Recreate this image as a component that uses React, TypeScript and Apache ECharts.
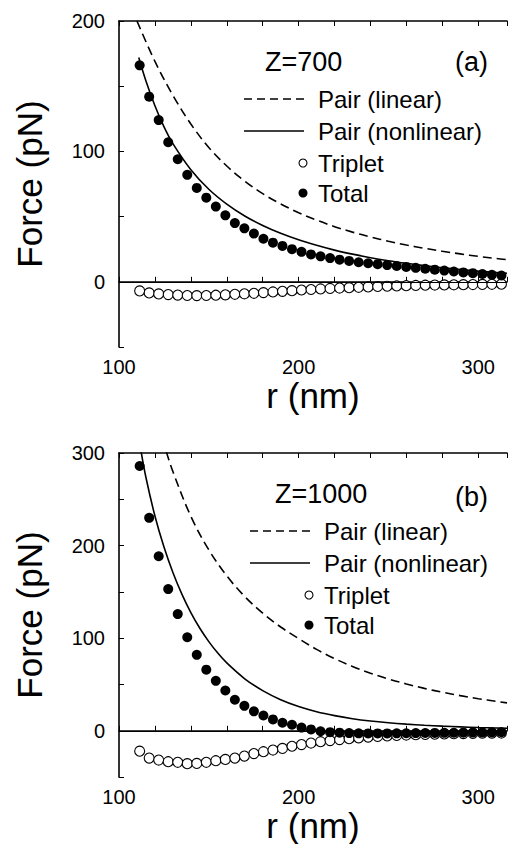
import React, { useEffect, useRef } from "react";
import * as echarts from "echarts";

// r positions of simulation points (nm)
const R = [111.5, 116.8, 122.1, 127.4, 132.7, 138.0, 143.3, 148.6, 153.9, 159.2, 164.5, 169.8, 175.1, 180.4, 185.7, 191.0, 196.3, 201.6, 206.9, 212.2, 217.5, 222.8, 228.1, 233.4, 238.7, 244.0, 249.3, 254.6, 259.9, 265.2, 270.5, 275.8, 281.1, 286.4, 291.7, 297.0, 302.3, 307.6, 312.9];

// Panel (a) Z=700
const TOTAL_A = [166, 142, 124, 107, 94, 82, 72, 64.5, 57.7, 51, 45, 41, 37, 33, 30, 27.5, 25, 23, 21, 19.5, 18.2, 17, 16, 15, 14.2, 13.5, 12.8, 12.1, 11.4, 10.7, 10, 9.3, 8.6, 7.9, 7.2, 6.6, 6, 5.4, 4.8];
const TRIPLET_A = [-7, -8.5, -9.3, -9.8, -10.2, -10.5, -10.6, -10.5, -10.3, -10, -9.6, -9.2, -8.8, -8.3, -7.8, -7.3, -6.8, -6.3, -5.9, -5.5, -5.1, -4.8, -4.5, -4.2, -3.9, -3.6, -3.4, -3.2, -3.0, -2.8, -2.6, -2.5, -2.4, -2.3, -2.2, -2.1, -2.0, -1.9, -1.8];
const LIN_A_R = [110, 120, 130, 140, 150, 160, 170, 180, 190, 200, 210, 220, 230, 240, 250, 260, 270, 280, 290, 300, 310, 316];
const LIN_A = [200, 169, 143, 121, 103, 88.8, 77.2, 67.6, 59.7, 53, 47.3, 42.3, 38.1, 34.4, 31.1, 28.2, 25.7, 23.4, 21.4, 19.5, 17.9, 17.0];
const NL_A_R = [111, 115, 120, 125, 130, 140, 150, 160, 170, 180, 190, 200, 210, 220, 230, 240, 250, 260, 270, 280, 290, 300, 310, 316];
const NL_A = [172, 154, 135, 119, 106, 86, 71, 59.6, 50.5, 43.2, 37.2, 32.2, 28, 24.3, 21.2, 18.5, 16.2, 14.2, 12.4, 10.8, 9.4, 8.2, 7.1, 6.5];

// Panel (b) Z=1000
const TOTAL_B = [286, 230, 188.5, 153, 126, 101, 82, 66, 54, 43.5, 33.5, 27, 21, 16.5, 12.3, 8.7, 6.5, 3.5, 1.5, -0.5, -1.5, -2, -2.5, -2.7, -2.8, -2.8, -2.8, -2.7, -2.6, -2.5, -2.4, -2.3, -2.2, -2.1, -2, -1.9, -1.8, -1.7, -1.6];
const TRIPLET_B = [-22, -29.5, -31.6, -33.4, -34, -35.5, -35.2, -34, -32.3, -30.9, -29.5, -27.3, -24.6, -22.6, -20.8, -19, -16.7, -14.9, -13.2, -11.8, -10.6, -9.5, -8.5, -7.6, -6.8, -6.1, -5.5, -5.0, -4.6, -4.2, -3.9, -3.6, -3.4, -3.2, -3.0, -2.8, -2.6, -2.5, -2.4];
const LIN_B_R = [120, 125, 130, 140, 150, 160, 170, 180, 190, 200, 210, 220, 230, 240, 250, 260, 270, 280, 290, 300, 310, 316];
const LIN_B = [345, 310, 280, 231.6, 195.4, 167.3, 145, 127, 112.1, 99.6, 87.9, 78, 69.5, 62.2, 56, 50.6, 45.8, 41.7, 38, 34.7, 31.8, 30.2];
const NL_B_R = [110, 112, 115, 120, 125, 130, 135, 140, 145, 150, 155, 160, 170, 180, 190, 200, 210, 220, 230, 240, 250, 260, 270, 280, 290, 300, 310, 316];
const NL_B = [330, 305, 273.5, 232, 198.7, 171, 147.6, 127.7, 110.7, 96.3, 83.9, 73.3, 56.2, 43.4, 33.6, 26.2, 20.6, 16.4, 13.1, 10.6, 8.7, 7.2, 6.0, 5.0, 4.2, 3.5, 3.0, 2.7];

const X_MIN = 100;
const X_MAX = 316;
const X_STEP = 20;
const Y_STEP = 50;
const PANELS = [
  { label: "Z=700", tag: "(a)", yMin: -50, yMax: 200 },
  { label: "Z=1000", tag: "(b)", yMin: -50, yMax: 300 },
];
const LEGEND = ["Pair (linear)", "Pair (nonlinear)", "Triplet", "Total"];

const FONT = "'Liberation Sans', Arial, Helvetica, sans-serif";

const zip = (xs: number[], ys: number[]) => xs.map((x, i) => [x, ys[i]]);

export default function App() {
  const ref = useRef<HTMLDivElement>(null);
  useEffect(() => {
    if (!ref.current) return;
    const chart = echarts.init(ref.current, null, { renderer: "svg" });
    const grids = [
      { left: 119, top: 21, width: 391, height: 326 },
      { left: 119, top: 453, width: 391, height: 326 },
    ];
    const axisLine = { show: true, lineStyle: { color: "#000", width: 1.6 } };
    const tick = { show: true, inside: true, length: 5, lineStyle: { color: "#000", width: 1 } };
    const xAxis: any[] = [];
    const yAxis: any[] = [];
    grids.forEach((g, i) => {
      xAxis.push({
        type: "value", gridIndex: i, min: X_MIN, max: X_MAX, interval: X_STEP,
        axisLine, axisTick: tick, splitLine: { show: false },
        axisLabel: {
          color: "#000", fontSize: 20, fontFamily: FONT, margin: 10,
          formatter: (v: number) => (v % 100 === 0 ? String(v) : ""),
        },
        name: "r (nm)", nameLocation: "middle", nameGap: i === 0 ? 29 : 25,
        nameTextStyle: { color: "#000", fontSize: 35, fontFamily: FONT },
      });
      xAxis.push({
        type: "value", gridIndex: i, position: "top", min: X_MIN, max: X_MAX, interval: X_STEP,
        axisLine, axisTick: tick, axisLabel: { show: false }, splitLine: { show: false },
      });
      yAxis.push({
        type: "value", gridIndex: i, min: PANELS[i].yMin, max: PANELS[i].yMax, interval: Y_STEP,
        axisLine, axisTick: tick, splitLine: { show: false },
        axisLabel: {
          color: "#000", fontSize: 20, fontFamily: FONT, margin: 14,
          formatter: (v: number) => (v % 100 === 0 ? String(v) : ""),
        },
        name: "Force (pN)", nameLocation: "middle", nameGap: 72,
        nameTextStyle: { color: "#000", fontSize: 35, fontFamily: FONT },
      });
    });

    const data = [
      { lin: zip(LIN_A_R, LIN_A), nl: zip(NL_A_R, NL_A), tri: zip(R, TRIPLET_A), tot: zip(R, TOTAL_A) },
      { lin: zip(LIN_B_R, LIN_B), nl: zip(NL_B_R, NL_B), tri: zip(R, TRIPLET_B), tot: zip(R, TOTAL_B) },
    ];
    const series: any[] = [];
    data.forEach((d, i) => {
      const xi = i * 2;
      series.push({
        type: "line", name: LEGEND[0], xAxisIndex: xi, yAxisIndex: i, data: d.lin,
        smooth: 0.35, showSymbol: false, symbol: "none",
        lineStyle: { color: "#000", width: 1.6, type: [9, 5] },
        markLine: {
          silent: true, symbol: "none", label: { show: false },
          lineStyle: { color: "#000", width: 1, type: "solid" },
          data: [{ yAxis: 0 }],
        },
      });
      series.push({
        type: "line", name: LEGEND[1], xAxisIndex: xi, yAxisIndex: i, data: d.nl,
        smooth: 0.35, showSymbol: false, symbol: "none",
        lineStyle: { color: "#000", width: 1.6, type: "solid" },
      });
      series.push({
        type: "scatter", name: LEGEND[2], xAxisIndex: xi, yAxisIndex: i, data: d.tri,
        symbol: "circle", symbolSize: 10,
        itemStyle: { color: "#fff", borderColor: "#000", borderWidth: 1.1, opacity: 1 },
      });
      series.push({
        type: "scatter", name: LEGEND[3], xAxisIndex: xi, yAxisIndex: i, data: d.tot,
        symbol: "circle", symbolSize: 10, itemStyle: { color: "#000", opacity: 1 },
      });
    });

    const legendAt = (p: number, lx: number, ly: number, zx: number, zy: number, tx: number, ty: number) => {
      const txt = (text: string, x: number, y: number, size: number) => ({
        type: "text", x, y,
        style: { text, fill: "#000", fontSize: size, fontFamily: FONT, align: "left", verticalAlign: "middle" },
      });
      const rows = [ly, ly + 32, ly + 64, ly + 94];
      return [
        txt(PANELS[p].label, zx, zy, 27),
        txt(PANELS[p].tag, tx, ty, 27),
        { type: "line", shape: { x1: lx, y1: rows[0], x2: lx + 60, y2: rows[0] }, style: { stroke: "#000", lineWidth: 1.6, lineDash: [8, 5] } },
        txt(LEGEND[0], lx + 74, rows[0], 24),
        { type: "line", shape: { x1: lx, y1: rows[1], x2: lx + 60, y2: rows[1] }, style: { stroke: "#000", lineWidth: 1.6 } },
        txt(LEGEND[1], lx + 74, rows[1], 24),
        { type: "circle", shape: { cx: lx + 59, cy: rows[2], r: 4 }, style: { fill: "#fff", stroke: "#000", lineWidth: 1.1 } },
        txt(LEGEND[2], lx + 74, rows[2], 24),
        { type: "circle", shape: { cx: lx + 59, cy: rows[3], r: 4.5 }, style: { fill: "#000" } },
        txt(LEGEND[3], lx + 74, rows[3], 24),
      ];
    };

    chart.setOption({
      animation: false,
      backgroundColor: "#fff",
      grid: grids,
      xAxis,
      yAxis,
      series,
      graphic: [
        ...legendAt(0, 244, 99, 265, 62, 455, 62),
        ...legendAt(1, 250, 531, 275, 494, 455, 497),
      ],
    });
    return () => chart.dispose();
  }, []);
  return (
    <div
      ref={ref}
      style={{ position: "fixed", left: 0, top: 0, width: 510, height: 844, background: "#fff" }}
    />
  );
}
